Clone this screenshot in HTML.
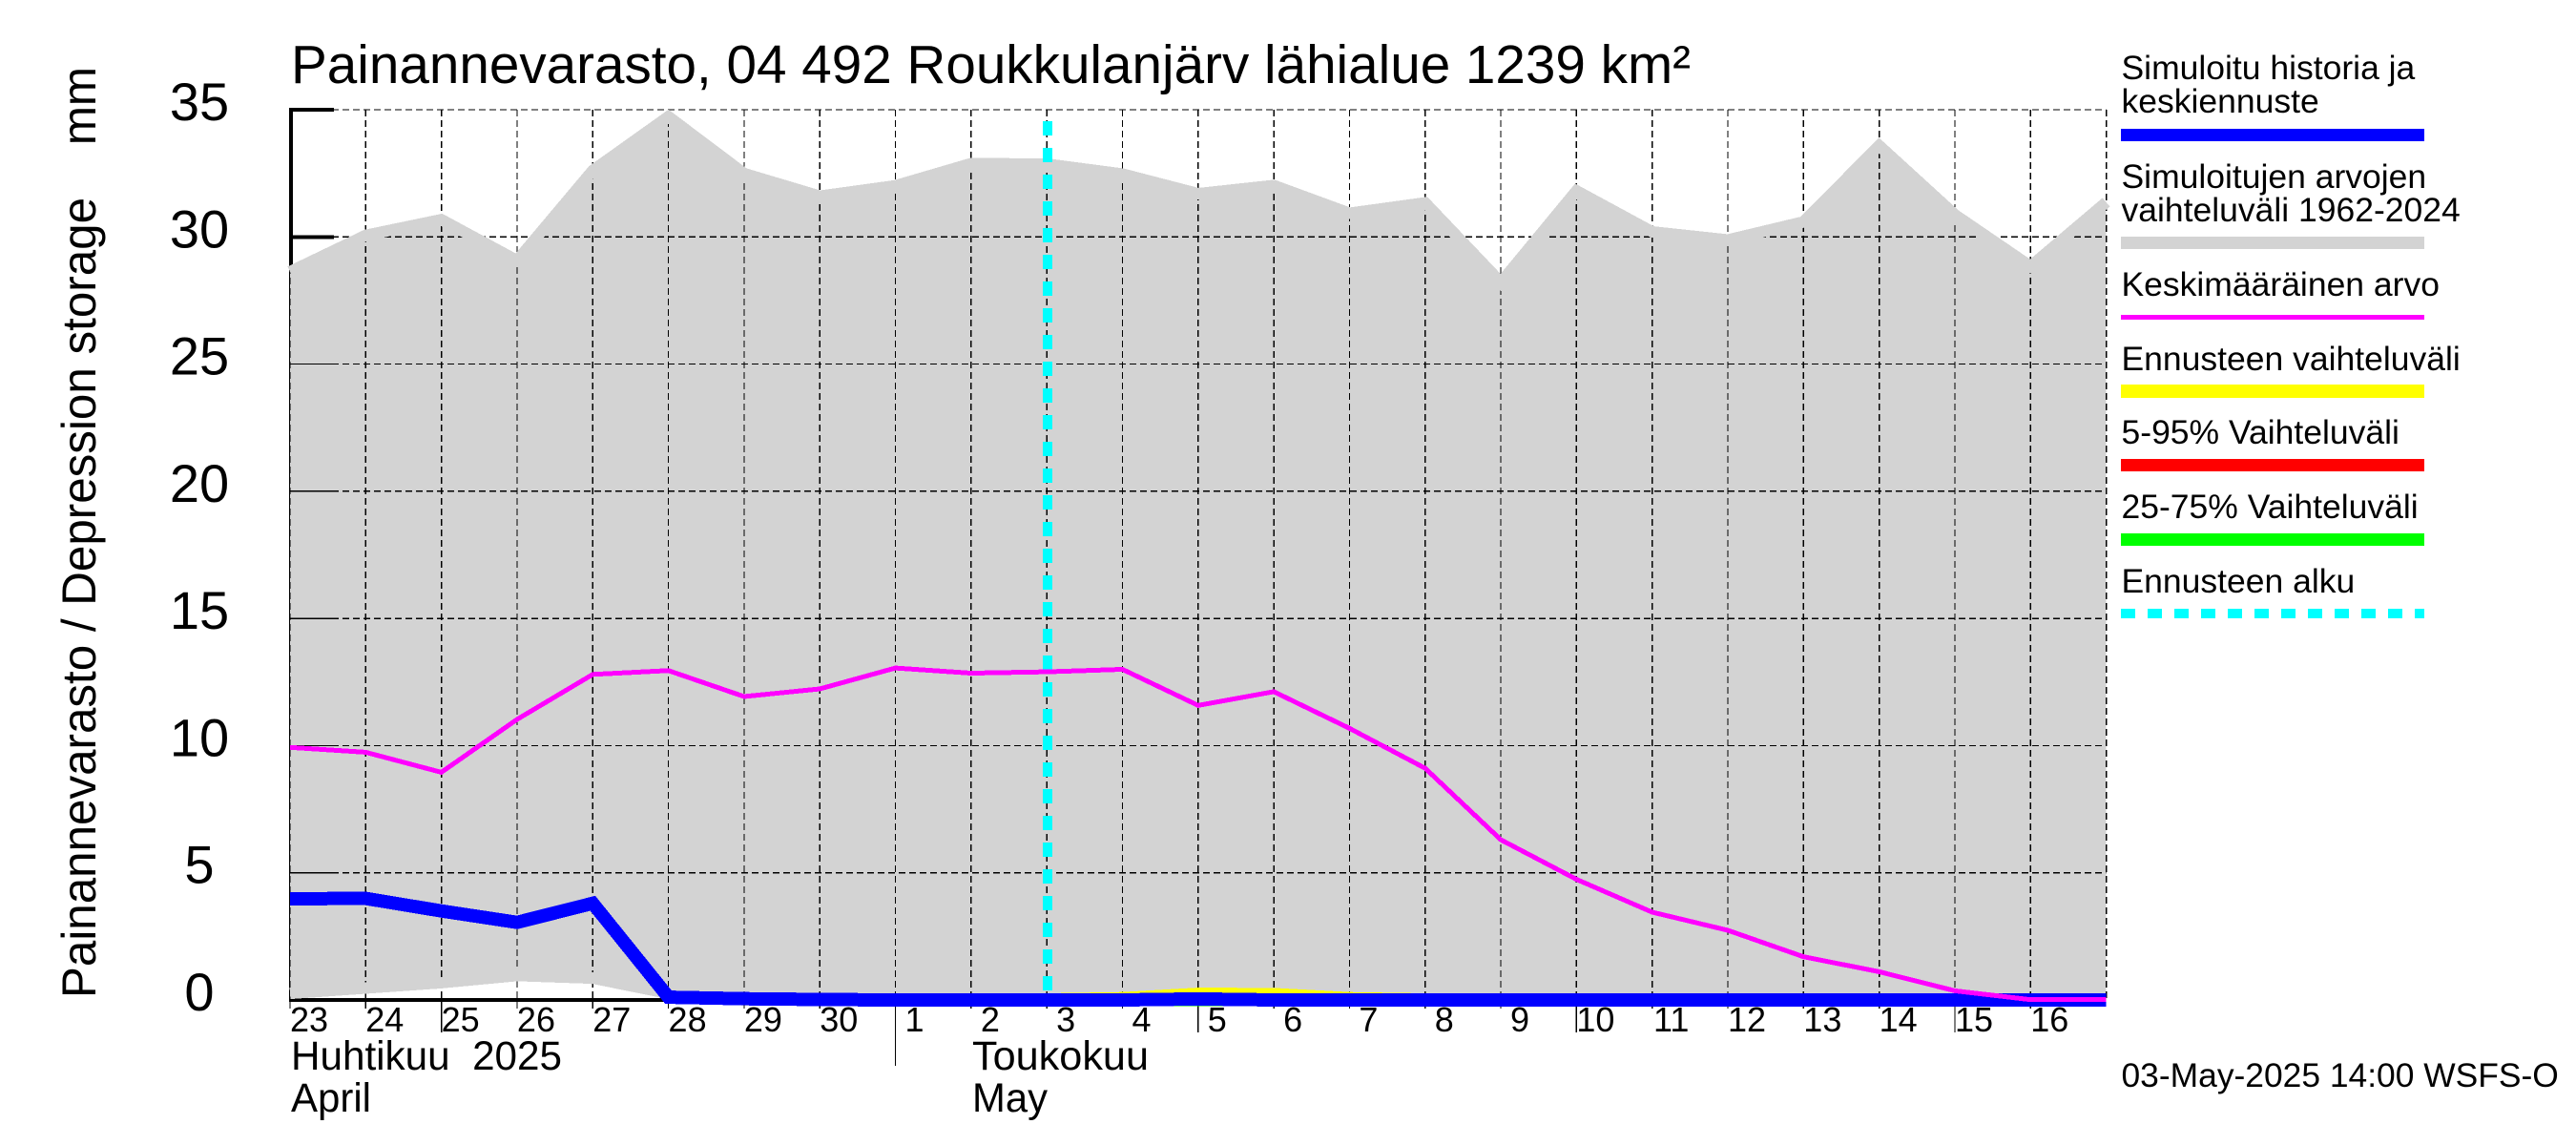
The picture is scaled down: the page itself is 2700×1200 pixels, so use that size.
<!DOCTYPE html>
<html lang="fi">
<head>
<meta charset="utf-8">
<title>Painannevarasto</title>
<style>
html,body{margin:0;padding:0;background:#fff;width:2700px;height:1200px;overflow:hidden}
svg{display:block;font-family:"Liberation Sans",Arial,sans-serif;fill:#000}
text{white-space:pre}
</style>
</head>
<body>
<svg id="chart" xmlns="http://www.w3.org/2000/svg" width="2700" height="1200" viewBox="0 0 2700 1200">
  <g id="under"></g>
  <g id="band-fill"></g>
  <g id="grid"></g>
  <g id="band-edge"></g>
  <g id="over"></g>
  <g id="series"></g>
  <g id="labels"></g>

  <text x="305" y="87" font-size="56.5" textLength="1467" lengthAdjust="spacingAndGlyphs">Painannevarasto, 04 492 Roukkulanjärv lähialue 1239 km²</text>
  <text transform="translate(100,1046) rotate(-90)" font-size="50" textLength="976" lengthAdjust="spacingAndGlyphs">Painannevarasto / Depression storage    mm</text>

  <text x="305" y="1121" font-size="43" textLength="284" lengthAdjust="spacingAndGlyphs">Huhtikuu  2025</text>
  <text x="305" y="1165" font-size="43" textLength="84" lengthAdjust="spacingAndGlyphs">April</text>
  <text x="1019" y="1121" font-size="43" textLength="185" lengthAdjust="spacingAndGlyphs">Toukokuu</text>
  <text x="1019" y="1165" font-size="43" textLength="79" lengthAdjust="spacingAndGlyphs">May</text>
  <text x="2223.5" y="1139" font-size="35.4">03-May-2025 14:00 WSFS-O</text>

  <g font-size="35.5">
    <g>
      <text x="2223.5" y="83">Simuloitu historia ja</text>
      <text x="2223.5" y="118">keskiennuste</text>
      <rect x="2223" y="135" width="318" height="13" fill="#0000ff"/>
    </g>
    <g>
      <text x="2223.5" y="197">Simuloitujen arvojen</text>
      <text x="2223.5" y="232">vaihteluväli 1962-2024</text>
      <rect x="2223" y="248" width="318" height="13" fill="#d3d3d3"/>
    </g>
    <g>
      <text x="2223.5" y="310">Keskimääräinen arvo</text>
      <rect x="2223" y="330" width="318" height="5" fill="#ff00ff"/>
    </g>
    <g>
      <text x="2223.5" y="388">Ennusteen vaihteluväli</text>
      <rect x="2223" y="403" width="318" height="14" fill="#ffff00"/>
    </g>
    <g>
      <text x="2223.5" y="465">5-95% Vaihteluväli</text>
      <rect x="2223" y="481" width="318" height="13" fill="#ff0000"/>
    </g>
    <g>
      <text x="2223.5" y="543">25-75% Vaihteluväli</text>
      <rect x="2223" y="559" width="318" height="13" fill="#00ff00"/>
    </g>
    <g>
      <text x="2223.5" y="621">Ennusteen alku</text>
      <line x1="2223" x2="2541" y1="643" y2="643" stroke="#00ffff" stroke-width="10" stroke-dasharray="15 13" shape-rendering="crispEdges"/>
    </g>
  </g>
</svg>

<script>
// Chart data: one entry per day from 23 April to 17 May 2025
const dayLabels = [23,24,25,26,27,28,29,30,1,2,3,4,5,6,7,8,9,10,11,12,13,14,15,16];
const yTicks = [0,5,10,15,20,25,30,35];
const longTickDays = [25,5,10,15];
const monthStartDay = 1;
const forecastStartDay = 3;
const rangeUpper = [28.63,30.06,30.68,29.07,32.61,34.73,32.49,31.60,32.01,32.88,32.86,32.47,31.70,32.02,30.93,31.34,28.21,31.81,30.20,29.88,30.59,33.59,30.87,28.84,31.36];
const rangeLower = [0.26,0.47,0.68,0.96,0.86,0.26,0,0,0,0,0,0,0,0,0,0,0,0,0,0,0,0,0,0,0];
const meanValue = [9.93,9.74,8.95,11.03,12.80,12.95,11.93,12.23,13.05,12.85,12.90,13.00,11.58,12.12,10.68,9.11,6.30,4.74,3.45,2.74,1.70,1.11,0.36,0.01,0.01];
const simulated = [3.98,3.99,3.50,3.05,3.80,0.11,0.05,0.02,0,0,0,0,0.04,0,0,0,0,0,0,0,0,0,0,0,0];
// Forecast series begin at the forecast start day (3 May)
const forecastUpper = [0,0.05,0.22,0.21,0.05,0,0,0,0,0,0,0,0,0,0];
const band595 = [0,0,0,0,0,0,0,0,0,0,0,0,0,0,0];
const band2575 = [0,0,0,0,0,0,0,0,0,0,0,0,0,0,0];

const NS = 'http://www.w3.org/2000/svg';
const X0 = 304, X1 = 2207.6, Y0 = 1048, Y35 = 115;
const GRID_W = 1.3;
const xScale = i => X0 + (X1 - X0) * i / 24;
const yScale = v => Y0 - (Y0 - Y35) * v / 35;
const pts = (arr, offset = 0) => arr.map((v, i) => xScale(i + offset).toFixed(1) + ',' + yScale(v).toFixed(1));
const node = (parentId, tag) => {
  const e = document.createElementNS(NS, tag);
  document.getElementById(parentId).appendChild(e);
  return e;
};
const setLine = (e, x1, y1, x2, y2, color, width, dash) => {
  e.setAttribute('x1', x1); e.setAttribute('y1', y1);
  e.setAttribute('x2', x2); e.setAttribute('y2', y2);
  e.setAttribute('stroke', color); e.setAttribute('stroke-width', width);
  e.setAttribute('shape-rendering', 'crispEdges');
  if (dash) e.setAttribute('stroke-dasharray', dash);
};
const setPoly = (e, arr, color, width, offset = 0) => {
  e.setAttribute('points', pts(arr, offset).join(' '));
  e.setAttribute('fill', 'none');
  e.setAttribute('stroke', color);
  e.setAttribute('stroke-width', width);
  e.setAttribute('stroke-linejoin', 'miter');
  e.setAttribute('stroke-miterlimit', '6');
  e.setAttribute('shape-rendering', 'crispEdges');
};

// Axis drawn beneath the grey range
const yAxis = node('under', 'line');


setLine(yAxis, 305, Y35 - 2, 305, Y0 + 2, '#000', 4);
const xAxis = node('under', 'line');


setLine(xAxis, X0, Y0, X1, Y0, '#000', 4);
yTicks.forEach(t => {
  const tick = node('under', 'line');
  
  
  setLine(tick, X0, yScale(t), 350, yScale(t), '#000', 4);
});

// Grey range fill
const fill = node('band-fill', 'polygon');


fill.setAttribute('points', pts(rangeUpper).concat(pts(rangeLower).reverse()).join(' '));
fill.setAttribute('fill', '#d3d3d3');
fill.setAttribute('shape-rendering', 'crispEdges');

// Grid
yTicks.forEach(t => {
  const g = node('grid', 'line');
  
  
  setLine(g, X0, yScale(t), X1, yScale(t), '#000', GRID_W, '7 4');
});
for (let i = 0; i <= 24; i++) {
  const g = node('grid', 'line');
  
  
  setLine(g, xScale(i), Y35, xScale(i), Y0, '#000', GRID_W, '7 4');
}

// Grey range edges are thick lines painted over the grid
const edgeTop = node('band-edge', 'polyline');


setPoly(edgeTop, rangeUpper, '#d3d3d3', 12);
const edgeLow = node('band-edge', 'polyline');


setPoly(edgeLow, rangeLower, '#d3d3d3', 12);

// Thin ticks over the grey
yTicks.forEach(t => {
  const tick = node('over', 'line');
  
  
  setLine(tick, X0, yScale(t), 350, yScale(t), '#000', GRID_W);
});
dayLabels.forEach((d, i) => {
  const end = (i > 0 && d === monthStartDay) ? 1117 : (longTickDays.includes(d) ? 1082 : 1057);
  const tick = node('over', 'line');
  
  
  setLine(tick, xScale(i), Y0, xScale(i), end, '#000', GRID_W);
});

// Forecast start line
const startIndex = dayLabels.indexOf(forecastStartDay);
const cyan = node('series', 'line');


setLine(cyan, xScale(startIndex) + 0.7, 127, xScale(startIndex) + 0.7, Y0, '#00ffff', 10, '15 13');

// Series
const yellow = node('series', 'polyline');


setPoly(yellow, forecastUpper, '#ffff00', 14, startIndex);
const red = node('series', 'polyline');


setPoly(red, band595, '#ff0000', 13, startIndex);
const green = node('series', 'polyline');


setPoly(green, band2575, '#00ff00', 13, startIndex);
const blue = node('series', 'polyline');


setPoly(blue, simulated, '#0000ff', 14);
const magenta = node('series', 'polyline');


setPoly(magenta, meanValue, '#ff00ff', 5);

// Tick labels
yTicks.forEach(t => {
  const lab = node('labels', 'text');
  
  
  lab.setAttribute('x', 209);
  lab.setAttribute('y', yScale(t) + 11);
  lab.setAttribute('font-size', 56);
  lab.setAttribute('text-anchor', 'middle');
  lab.textContent = t;
});
dayLabels.forEach((d, i) => {
  const lab = node('labels', 'text');
  
  
  lab.setAttribute('x', xScale(i) + 20);
  lab.setAttribute('y', 1081);
  lab.setAttribute('font-size', 36);
  lab.setAttribute('text-anchor', 'middle');
  lab.textContent = d;
});
</script>
</body>
</html>
